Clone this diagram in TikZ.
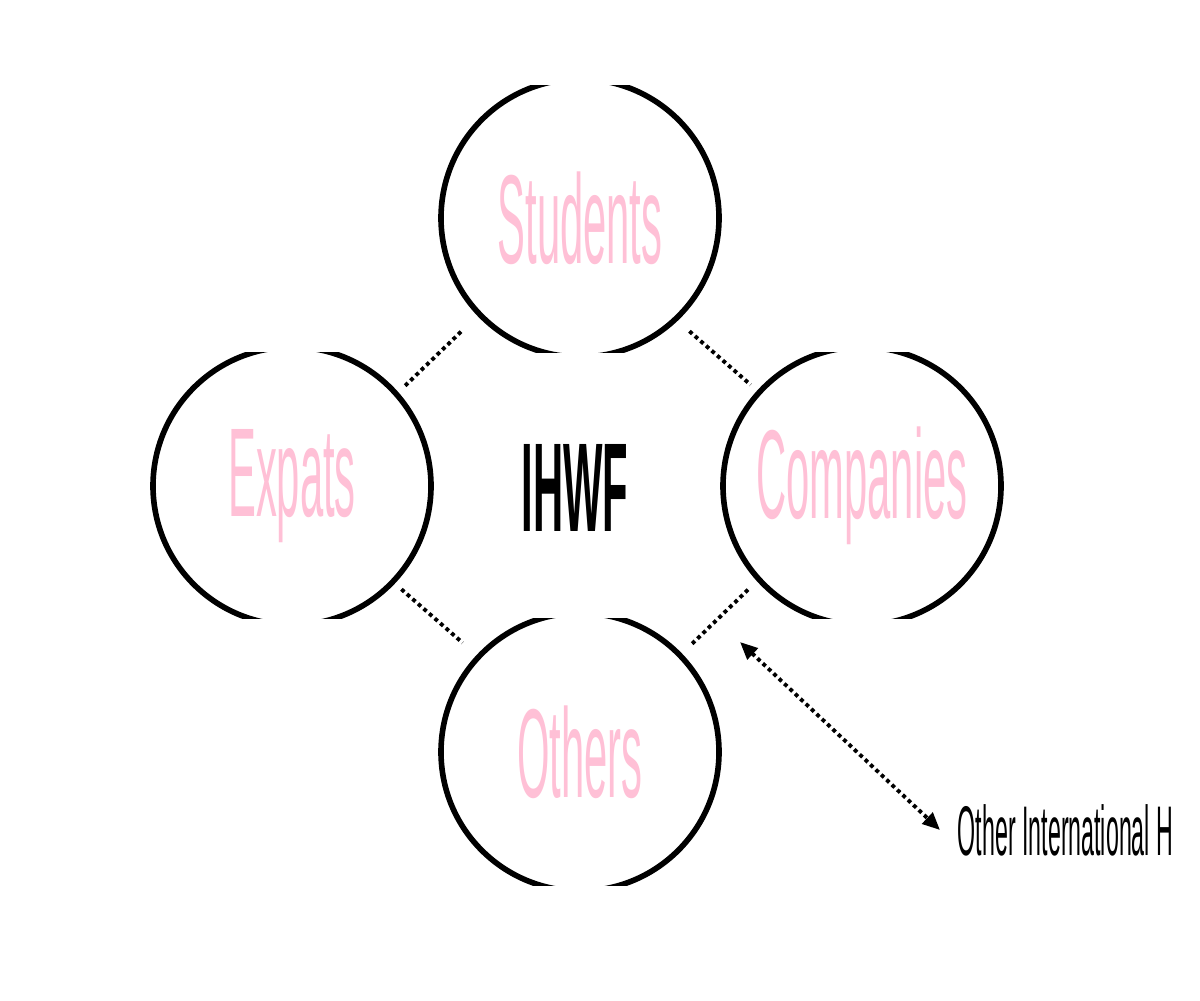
\documentclass[tikz,border=0pt]{standalone}
\usepackage{fontspec}
\setmainfont{Liberation Sans}
\newfontfamily\narrowfont[FakeStretch=0.33]{Liberation Sans}
\usetikzlibrary{arrows.meta}
\begin{document}
\begin{tikzpicture}
            \definecolor{Pinkcolor}{RGB}{255, 192, 214}
            \def\rad{2.78}
            \tikzset{
              group/.style={shape=circle, minimum size={2*\rad cm}, inner sep=0pt, text=Pinkcolor, font=\narrowfont\fontsize{72}{72}\selectfont},
              ring/.style={line width=3.2pt},
              link/.style={dotted, line width=2.2pt, shorten <=0.25cm, shorten >=0.25cm}
            }
            \clip (0,0) rectangle (24,-20);
            \fill[white] (0,0) rectangle (24,-20);
            % groups
            \node[group] (stu) at (11.6, -4.36) {Students};
            \node[group] (exp) at (5.84, -9.72) {Expats};
            \node[group] (com) at (17.24, -9.72) {Companies};
            \node[group] (oth) at (11.6, -15.04) {Others};
            \node[font=\narrowfont\bfseries\fontsize{72}{72}\selectfont] (ihwf) at (11.5, -9.75) {IHWF};
            % rings, flat at top and bottom
            \begin{scope}
              \clip (0,-1.7) rectangle (24,-7.04);
              \draw[ring] (stu) circle (\rad);
            \end{scope}
            \begin{scope}
              \clip (0,-7.04) rectangle (24,-12.36);
              \draw[ring] (exp) circle (\rad);
              \draw[ring] (com) circle (\rad);
            \end{scope}
            \begin{scope}
              \clip (0,-12.36) rectangle (24,-17.7);
              \draw[ring] (oth) circle (\rad);
            \end{scope}
            % links
            \draw[link] (stu) ++(-2.2,-2.1) coordinate (s1) -- ++(-1.5,-1.45) coordinate (e1);
            \draw[link] (stu) ++(2.0,-2.1) coordinate (s2) -- ++(1.6,-1.4) coordinate (c1);
            \draw[link] (exp) ++(2.0,-1.9) coordinate (e2) -- ++(1.6,-1.4) coordinate (o1);
            \draw[link] (com) ++(-2.1,-1.9) coordinate (c2) -- ++(-1.5,-1.45) coordinate (o2);
            % other
            \coordinate (tip) at (14.8, -12.84);
            \node[anchor=west, font=\narrowfont\fontsize{40}{40}\selectfont, inner sep=0pt] (ohw) at (19.15, -16.6) {Other International H};
            \draw[dotted, line width=2.2pt, {Triangle[length=0.35cm,width=0.3cm]}-{Triangle[length=0.35cm,width=0.3cm]}] (tip) -- ([xshift=-0.35cm,yshift=0cm]ohw.west);
        \end{tikzpicture}
\end{document}
